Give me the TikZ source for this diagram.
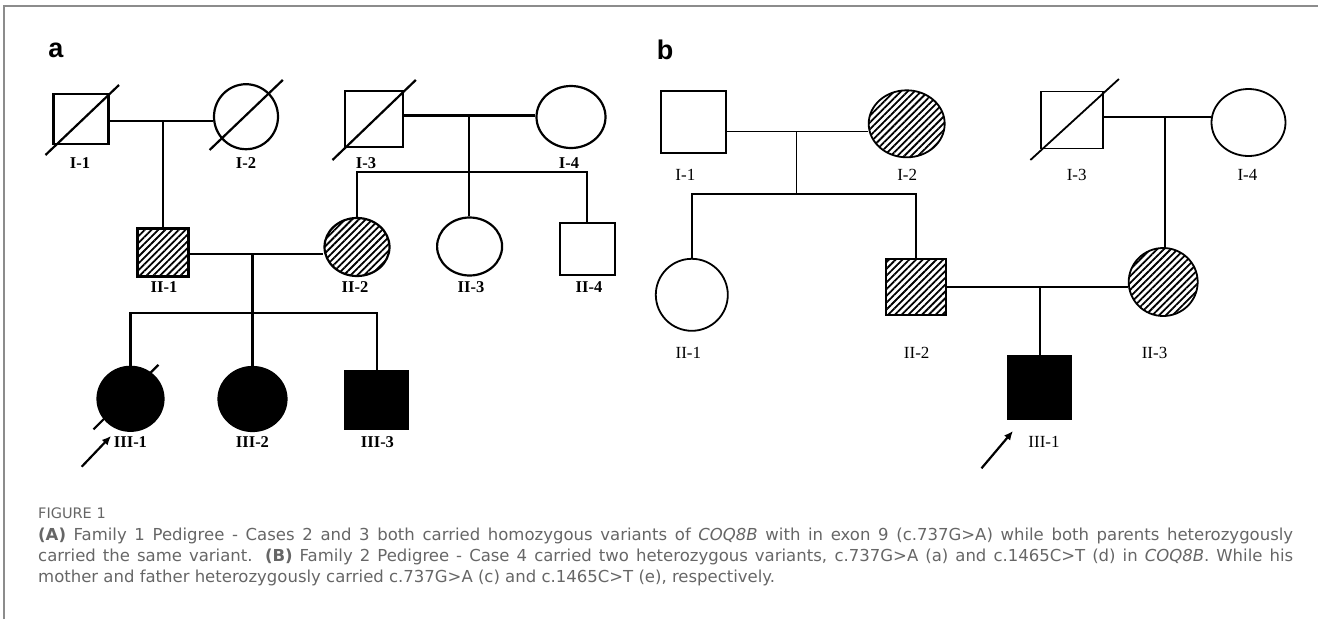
\documentclass[tikz,border=0pt]{standalone}
\usepackage{fontspec}
\setmainfont{Liberation Serif}
\newfontfamily\capfont{DejaVu Sans}
\newfontfamily\panelfont{Liberation Sans}
\usetikzlibrary{positioning,arrows.meta,shapes.geometric,patterns.meta}
\definecolor{capgray}{HTML}{666666}
\definecolor{framegray}{HTML}{8C8C8C}

\begin{document}
\begin{tikzpicture}[x=1pt,y=-1pt]
    \useasboundingbox (0,0) rectangle (1318,619);
    \draw[framegray, line width=1.4pt] (4,619) -- (4,6) -- (1318,6);

    \begin{scope}[text centered,
    		male/.style={rectangle,draw,inner sep=0pt},
    		female/.style={ellipse,draw,inner sep=0pt},
    		carrier/.style={pattern={Lines[angle=45,distance=4.8pt,line width=1.8pt]}},
    		affected/.style={fill=black},
    		lab/.style={inner sep=0pt},
    		panel/.style={inner sep=0pt,font=\panelfont\bfseries\fontsize{27}{27}\selectfont},
    		proband/.style={black, line width=2.2pt, -{Latex[length=9pt,width=8pt]}}]

    % family 1
    \begin{scope}[line width=2.2pt, lab/.append style={font=\bfseries\fontsize{16.5}{16.5}\selectfont}]
    \node[panel] (lettera) at (56,50) {a};

    \node[male] (aI1) at (81,118.7) [minimum width=55pt, minimum height=50pt] {};
    \node[female] (aI2) at (246,116.7) [minimum width=64pt, minimum height=65pt] {};
    \node[male] (aI3) at (374,119) [minimum width=58pt, minimum height=56pt] {};
    \node[female] (aI4) at (571,117) [minimum width=69pt, minimum height=62pt] {};
    \node[male, carrier] (aII1) at (163,252.5) [minimum width=51pt, minimum height=48pt] {};
    \node[female, carrier] (aII2) at (357,247) [minimum width=65pt, minimum height=58pt] {};
    \node[female] (aII3) at (469.6,246.5) [minimum width=65pt, minimum height=58pt] {};
    \node[male] (aII4) at (587.3,248.8) [minimum width=55pt, minimum height=52pt] {};
    \node[female, affected] (aIII1) at (130.5,398.8) [minimum width=66pt, minimum height=64pt] {};
    \node[female, affected] (aIII2) at (252.5,399) [minimum width=68pt, minimum height=64pt] {};
    \node[male, affected] (aIII3) at (376.7,399.7) [minimum width=63pt, minimum height=58pt] {};

    \node[lab] (aI1l) at (80,163) {I-1};
    \node[lab] (aI2l) at (246,163) {I-2};
    \node[lab] (aI3l) at (366,163) {I-3};
    \node[lab] (aI4l) at (569,163) {I-4};
    \node[lab] (aII1l) at (164,287) {II-1};
    \node[lab] (aII2l) at (355,287) {II-2};
    \node[lab] (aII3l) at (471,287) {II-3};
    \node[lab] (aII4l) at (589,287) {II-4};
    \node[lab] (aIII1l) at (130.5,442.5) {III-1};
    \node[lab] (aIII2l) at (252.5,442.5) {III-2};
    \node[lab] (aIII3l) at (377.5,442.5) {III-3};

    \coordinate (am1) at (162.9,120.7);
    \coordinate (am2) at (469.3,115.5);
    \coordinate (as1) at (469.3,172);
    \coordinate (am3) at (252.5,254);
    \coordinate (as2) at (252.5,313);

    \draw
    (aI1.east |- am1) -- (aI2.west |- am1)
    (am1) -- (am1 |- aII1.north)
    (aI3.east |- am2) -- (aI4.west |- am2)
    (am2) -- (am2 |- aII3.north)
    (aII2.north) |- (aII4.north |- as1) -- (aII4.north)
    (aII1.east |- am3) -- (aII2.west |- am3)
    (am3) -- (as2)
    (as2) -- (aIII2.north)
    (aIII1.north) |- (aIII3.north |- as2) -- (aIII3.north);

    \draw ([shift={(-35.5,36.3)}]aI1.center) -- ([shift={(38,-33.7)}]aI1.center);
    \draw ([shift={(-36.4,33.3)}]aI2.center) -- ([shift={(36.8,-36.7)}]aI2.center);
    \draw ([shift={(-41.5,41)}]aI3.center) -- ([shift={(41.8,-39)}]aI3.center);
    \draw ([shift={(-37,30.5)}]aIII1.center) -- ([shift={(28,-34)}]aIII1.center);

    \coordinate (aprob) at (81.7,466.7);
    \coordinate (aprobtip) at (111,436);
    \draw[proband] (aprob) -- (aprobtip);
    \end{scope}

    % family 2
    \begin{scope}[line width=1.8pt, lab/.append style={font=\fontsize{17}{17}\selectfont}]
    \node[panel] (letterb) at (665,50) {b};

    \node[male] (bI1) at (693.8,122.2) [minimum width=65pt, minimum height=62pt] {};
    \node[female, carrier] (bI2) at (906.7,123.8) [minimum width=76pt, minimum height=67pt] {};
    \node[male] (bI3) at (1071.9,120) [minimum width=62pt, minimum height=57pt] {};
    \node[female] (bI4) at (1248.5,122.5) [minimum width=74pt, minimum height=67pt] {};
    \node[female] (bII1) at (691.8,294.8) [minimum width=72pt, minimum height=72pt] {};
    \node[male, carrier] (bII2) at (916.3,287) [minimum width=60pt, minimum height=56pt] {};
    \node[female, carrier] (bII3) at (1163.2,282) [minimum width=69pt, minimum height=68pt] {};
    \node[male, affected] (bIII1) at (1039.5,387.2) [minimum width=64pt, minimum height=63pt] {};

    \node[lab] (bI1l) at (685.4,175) {I-1};
    \node[lab] (bI2l) at (907.2,175) {I-2};
    \node[lab] (bI3l) at (1076.7,175) {I-3};
    \node[lab] (bI4l) at (1247.4,175) {I-4};
    \node[lab] (bII1l) at (688.4,353) {II-1};
    \node[lab] (bII2l) at (916.7,353) {II-2};
    \node[lab] (bII3l) at (1154.5,353) {II-3};
    \node[lab] (bIII1l) at (1044,442) {III-1};

    \coordinate (bm1) at (796.5,131.5);
    \coordinate (bs1) at (796.5,194);
    \coordinate (bm2) at (1165.3,116.7);
    \coordinate (bm3) at (1040,287);

    \draw
    (bI1.east |- bm1) -- (bI2.west |- bm1)
    (bm1) -- (bs1)
    (bII1.north) |- (bII2.north |- bs1) -- (bII2.north)
    (bI3.east |- bm2) -- (bI4.west |- bm2)
    (bm2) -- (bm2 |- bII3.north)
    (bII2.east |- bm3) -- (bII3.west |- bm3)
    (bm3) -- (bm3 |- bIII1.north);

    \draw ([shift={(-41.5,40)}]bI3.center) -- ([shift={(47,-41)}]bI3.center);

    \coordinate (bprob) at (981.5,468.3);
    \coordinate (bprobtip) at (1013,431);
    \draw[proband] (bprob) -- (bprobtip);
    \end{scope}

    % caption
    \begin{scope}[every node/.style={inner sep=0pt, anchor=base west, text=capgray, font=\capfont\fontsize{16.5}{16.5}\selectfont}]
    \node (figno) at (38,518) {\fontsize{14.5}{14.5}\selectfont FIGURE 1};
    \node (cap1) at (38,540.7) {\makebox[1255pt][s]{\textbf{(A)} Family 1 Pedigree - Cases 2 and 3 both carried homozygous variants of \textit{COQ8B} with in exon 9 (c.737G>A) while both parents heterozygously}};
    \node (cap2) at (38,561.7) {\makebox[1255pt][s]{carried the same variant. \textbf{(B)} Family 2 Pedigree - Case 4 carried two heterozygous variants, c.737G>A (a) and c.1465C>T (d) in \textit{COQ8B}. While his}};
    \node (cap3) at (38,582) {mother and father heterozygously carried c.737G>A (c) and c.1465C>T (e), respectively.};
    \end{scope}

    \end{scope}
\end{tikzpicture}
\end{document}
